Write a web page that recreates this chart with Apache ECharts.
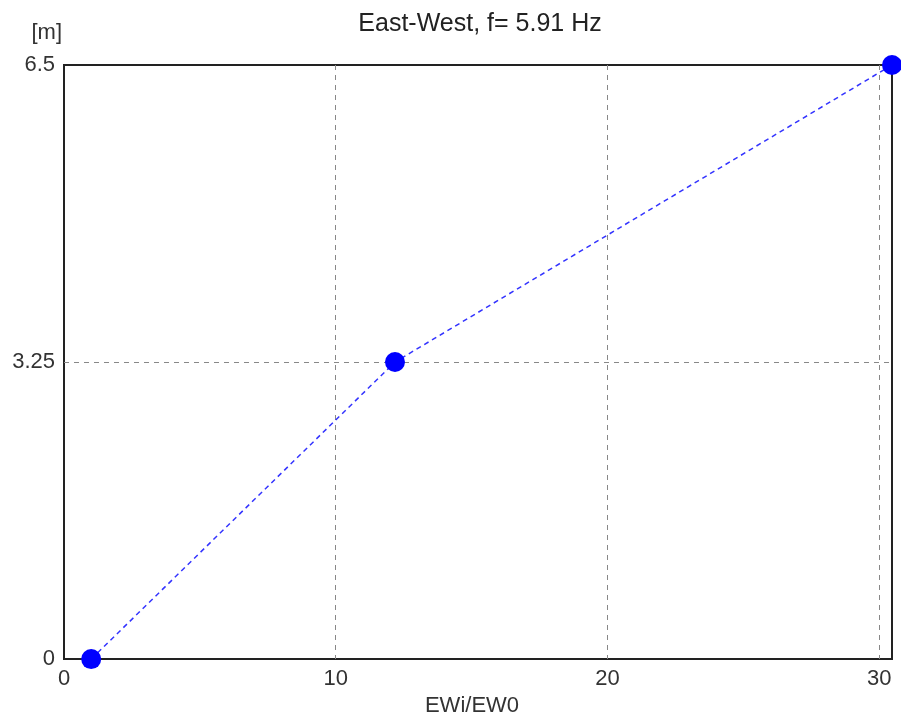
<!DOCTYPE html>
<html><head><meta charset="utf-8">
<script src="https://cdn.jsdelivr.net/npm/echarts@6/dist/echarts.min.js"></script>
<style>html,body{margin:0;padding:0;background:#fff}#c{width:901px;height:722px}</style>
</head><body><div id="c"></div>
<script>
var xValues = [1.0, 12.18, 30.47];
var yValues = [0, 3.25, 6.5];
var xTicks = [0, 10, 20, 30];
var yTicks = [0, 3.25, 6.5];
var titleText = 'East-West, f= 5.91 Hz';
var xName = 'EWi/EW0';
var yName = '[m]';

var data = xValues.map(function(x, i){ return [x, yValues[i]]; });
var font = 'Liberation Sans';
var chart = echarts.init(document.getElementById('c'));
chart.setOption({
  animation: false,
  title: { text: titleText, left: 475, top: 7, textAlign: 'center',
    textStyle: { fontFamily: font, fontSize: 25, fontWeight: 'normal', color: '#222' } },
  grid: { left: 64, right: 9, top: 65, bottom: 58, show: true, borderColor: '#222', borderWidth: 2 },
  xAxis: {
    type: 'value', min: 0, max: 30.47, interval: 10,
    name: xName, nameLocation: 'middle', nameGap: 29,
    nameTextStyle: { fontFamily: font, fontSize: 22, color: '#333', padding: [0, 12, 0, 0] },
    axisLine: { show: false }, axisTick: { show: false },
    axisLabel: { fontFamily: font, fontSize: 22, color: '#333', margin: 9, showMaxLabel: false,
      formatter: function(v){ return xTicks.indexOf(v) >= 0 ? String(v) : ''; } },
    splitLine: { show: true, showMinLine: false, showMaxLine: false,
      lineStyle: { color: '#888', type: [5, 5], width: 1 } }
  },
  yAxis: {
    type: 'value', min: 0, max: 6.5, interval: 3.25,
    name: yName, nameLocation: 'end', nameGap: 21,
    nameTextStyle: { fontFamily: font, fontSize: 22, color: '#333', align: 'right', padding: [0, 2, 0, 0] },
    axisLine: { show: false }, axisTick: { show: false },
    axisLabel: { fontFamily: font, fontSize: 22, color: '#333', margin: 9,
      formatter: function(v){ return yTicks.indexOf(v) >= 0 ? String(v) : ''; } },
    splitLine: { show: true, showMinLine: false, showMaxLine: false,
      lineStyle: { color: '#888', type: [5, 5], width: 1 } }
  },
  series: [{
    type: 'line', data: data, symbol: 'circle', symbolSize: 20,
    itemStyle: { color: '#0000ff' },
    lineStyle: { color: '#3333ff', width: 1.5, type: [5, 4] },
    clip: false
  }]
});
</script></body></html>
